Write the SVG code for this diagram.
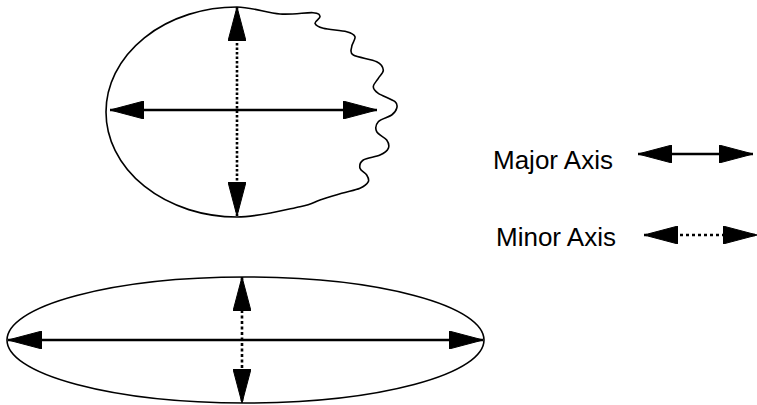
<svg xmlns="http://www.w3.org/2000/svg" width="757" height="405" viewBox="0 0 757 405">
<style>
.outline{fill:none;stroke:#000;stroke-width:1.6}
.major{fill:none;stroke:#000;stroke-width:2.6;marker-start:url(#head);marker-end:url(#head)}
.minor{fill:none;stroke:#000;stroke-width:2.6;stroke-dasharray:2.5 2;marker-start:url(#head);marker-end:url(#head)}
.label{font-family:"Liberation Sans",Arial,sans-serif;font-size:26px;fill:#000}
</style>
<defs>
<marker id="head" viewBox="0 0 34 18" refX="34" refY="9" markerWidth="34" markerHeight="18" markerUnits="userSpaceOnUse" orient="auto-start-reverse">
<path d="M0,0 L34,9 L0,18 Z" fill="#000" stroke="#000" stroke-width="1" stroke-linejoin="round"/>
</marker>
</defs>
<g id="irregular-shape">
<path class="outline" d="M237,7 C251,7 267.33,13.05 280,14 C292.67,14.95 306.33,12.25 313,12.7 C319.67,13.15 319.67,14.93 320,16.7 C320.33,18.47 314.45,21.37 315,23.3 C315.55,25.23 318.02,26.9 323.3,28.3 C328.58,29.7 341.42,30.3 346.7,31.7 C351.98,33.1 354.17,34.2 355,36.7 C355.83,39.2 351.98,43.65 351.7,46.7 C351.42,49.75 349.13,52.5 353.3,55 C357.47,57.5 371.7,59.2 376.7,61.7 C381.7,64.2 383.03,67.23 383.3,70 C383.57,72.77 379.97,75.52 378.3,78.3 C376.63,81.08 373.3,84.2 373.3,86.7 C373.3,89.2 374.68,90.8 378.3,93.3 C381.92,95.8 391.93,99.2 395,101.7 C398.07,104.2 397.25,106.08 396.7,108.3 C396.15,110.52 394.77,112.77 391.7,115 C388.63,117.23 380.8,118.92 378.3,121.7 C375.8,124.48 375.3,128.65 376.7,131.7 C378.1,134.75 384.77,137.23 386.7,140 C388.63,142.77 389.42,145.8 388.3,148.3 C387.18,150.8 384.17,153.05 380,155 C375.83,156.95 366.63,157.78 363.3,160 C359.97,162.22 359.43,165.8 360,168.3 C360.57,170.8 365.32,172.77 366.7,175 C368.08,177.23 369.42,179.48 368.3,181.7 C367.18,183.92 364.43,186.37 360,188.3 C355.57,190.23 348.37,191.35 341.7,193.3 C335.03,195.25 326.95,197.77 320,200 C313.05,202.23 313.83,203.87 300,206.7 C286.17,209.53 258,217 237,217 A131,105 0 0 1 106,112 A131,105 0 0 1 237,7 Z"/>
</g>
<g id="ellipse-shape">
<ellipse class="outline" cx="245.5" cy="340" rx="238.5" ry="63"/>
</g>
<g id="legend-major">
<text class="label" x="493" y="169">Major Axis</text>
</g>
<g id="legend-minor">
<text class="label" x="496" y="246">Minor Axis</text>
</g>
<g id="connectors">
<line class="major" x1="110" y1="110" x2="377" y2="110"/>
<line class="minor" x1="237" y1="7" x2="237" y2="216"/>
<line class="major" x1="8" y1="340" x2="483" y2="340"/>
<line class="minor" x1="242" y1="277" x2="242" y2="403" style="stroke-dasharray:3 2.5"/>
<line class="major" x1="638" y1="154" x2="753" y2="154"/>
<line class="minor" x1="644" y1="235" x2="757" y2="235" style="stroke-dasharray:3 3"/>
</g>
</svg>
